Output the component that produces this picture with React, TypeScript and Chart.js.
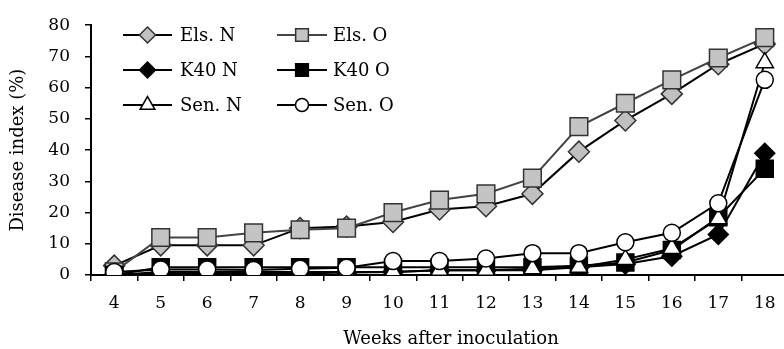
import React, { useEffect, useRef } from 'react';
import { Chart, registerables } from 'chart.js';

Chart.register(...registerables);

const weeks = ['4', '5', '6', '7', '8', '9', '10', '11', '12', '13', '14', '15', '16', '17', '18'];
const elsN = [3, 9.5, 9.5, 9.5, 15, 15.5, 17, 21, 22, 26, 39.5, 49.5, 58, 67.5, 74];
const elsO = [1, 12, 12, 13.5, 14.5, 15, 20, 24, 26, 31, 47.5, 55, 62.5, 69.5, 76];
const k40N = [0, 0.5, 0.5, 0.5, 0.5, 0.8, 1, 1.5, 1.5, 1.5, 2.5, 3.5, 6, 13, 39];
const k40O = [0, 2.5, 2.5, 2.5, 2.5, 2.5, 2.5, 2.5, 2.5, 2.5, 3, 4, 8, 18.5, 34];
const senN = [0, 1, 1, 1, 1, 1, 1, 1.5, 1.5, 2, 2.5, 5, 8.5, 18, 68];
const senO = [1, 1.8, 1.8, 1.6, 2, 2.3, 4.5, 4.5, 5.3, 7, 7, 10.5, 13.5, 23, 62.5];
const yTicks = [0, 10, 20, 30, 40, 50, 60, 70, 80];

const FONT = '"DejaVu Serif", serif';

type Series = {
  label: string;
  data: number[];
  line: string;
  style: string;
  r: number;
  lr: number;
  fill: string;
  stroke: string;
  order: number;
};

const series: Series[] = [
  { label: 'Els. N', data: elsN, line: '#000', style: 'rectRot', r: 10.5, lr: 8, fill: '#c0c0c0', stroke: '#333', order: 5 },
  { label: 'Els. O', data: elsO, line: '#444', style: 'rect', r: 12.5, lr: 9, fill: '#c4c4c4', stroke: '#333', order: 4 },
  { label: 'K40 N', data: k40N, line: '#000', style: 'rectRot', r: 10, lr: 8, fill: '#000', stroke: '#000', order: 3 },
  { label: 'K40 O', data: k40O, line: '#000', style: 'rect', r: 12, lr: 9, fill: '#000', stroke: '#000', order: 2 },
  { label: 'Sen. N', data: senN, line: '#000', style: 'triangle', r: 10, lr: 8.5, fill: '#fff', stroke: '#000', order: 1 },
  { label: 'Sen. O', data: senO, line: '#000', style: 'circle', r: 8.5, lr: 6.5, fill: '#fff', stroke: '#000', order: 0 },
];

function drawMarker(ctx: CanvasRenderingContext2D, style: string, x: number, y: number, r: number) {
  ctx.beginPath();
  if (style === 'circle') {
    ctx.arc(x, y, r, 0, Math.PI * 2);
  } else if (style === 'rect') {
    const s = r * Math.SQRT1_2;
    ctx.rect(x - s, y - s, 2 * s, 2 * s);
  } else if (style === 'rectRot') {
    ctx.moveTo(x, y - r);
    ctx.lineTo(x + r, y);
    ctx.lineTo(x, y + r);
    ctx.lineTo(x - r, y);
  } else if (style === 'triangle') {
    const a = (2 * Math.PI) / 3;
    ctx.moveTo(x, y - r);
    ctx.lineTo(x + Math.sin(a) * r, y - Math.cos(a) * r);
    ctx.lineTo(x + Math.sin(2 * a) * r, y - Math.cos(2 * a) * r);
  }
  ctx.closePath();
  ctx.fill();
  ctx.stroke();
}

const legendPlugin = {
  id: 'customLegend',
  afterDraw(chart: any) {
    const ctx: CanvasRenderingContext2D = chart.ctx;
    ctx.save();
    const cols = [
      { x1: 123, x2: 172, tx: 180 },
      { x1: 277, x2: 327, tx: 333 },
    ];
    const rows = [35, 70, 105];
    series.forEach((s, i) => {
      const c = cols[i % 2];
      const y = rows[Math.floor(i / 2)];
      ctx.strokeStyle = s.line;
      ctx.lineWidth = 2;
      ctx.beginPath();
      ctx.moveTo(c.x1, y);
      ctx.lineTo(c.x2, y);
      ctx.stroke();
      ctx.fillStyle = s.fill;
      ctx.strokeStyle = s.stroke;
      ctx.lineWidth = 1.5;
      drawMarker(ctx, s.style, (c.x1 + c.x2) / 2, y, s.lr);
      ctx.fillStyle = '#000';
      ctx.font = '18px ' + FONT;
      ctx.textAlign = 'left';
      ctx.textBaseline = 'middle';
      ctx.fillText(s.label, c.tx, y + 1);
    });
    // x axis title
    ctx.font = '18px ' + FONT;
    ctx.textAlign = 'center';
    ctx.textBaseline = 'middle';
    ctx.fillStyle = '#000';
    ctx.fillText('Weeks after inoculation', 451, 339);
    ctx.restore();
  },
};

export default function App() {
  const ref = useRef<HTMLCanvasElement | null>(null);

  useEffect(() => {
    if (!ref.current) return;
    const chart = new Chart(ref.current, {
      type: 'line',
      data: {
        labels: weeks,
        datasets: series.map((s) => ({
          label: s.label,
          data: s.data,
          borderColor: s.line,
          borderWidth: 2,
          pointStyle: s.style as any,
          pointRadius: s.r,
          pointHoverRadius: s.r,
          pointBackgroundColor: s.fill,
          pointBorderColor: s.stroke,
          pointBorderWidth: 1.5,
          tension: 0,
          fill: false,
          order: s.order,
        })),
      },
      options: {
        responsive: false,
        animation: false,
        devicePixelRatio: 1,
        layout: { padding: { top: 22, right: 0, bottom: 0, left: 0 } },
        plugins: {
          legend: { display: false },
          tooltip: { enabled: false },
        },
        scales: {
          x: {
            type: 'category',
            offset: true,
            grid: {
              display: true,
              offset: true,
              drawOnChartArea: false,
              drawTicks: true,
              tickLength: 6,
              color: '#000',
              lineWidth: 1.5,
            },
            border: { display: true, color: '#000', width: 2 },
            ticks: {
              color: '#000',
              font: { family: FONT, size: 17 },
              padding: 12,
              maxRotation: 0,
              autoSkip: false,
            },
            title: { display: false },
            afterFit: (scale: any) => {
              scale.height = 74;
              scale.paddingLeft = 0;
              scale.paddingRight = 0;
            },
          },
          y: {
            min: 0,
            max: 80,
            afterBuildTicks: (scale: any) => {
              scale.ticks = yTicks.map((v) => ({ value: v }));
            },
            grid: {
              display: true,
              drawOnChartArea: false,
              drawTicks: true,
              tickLength: 6,
              color: '#000',
              lineWidth: 1.5,
            },
            border: { display: true, color: '#000', width: 2 },
            ticks: {
              color: '#000',
              font: { family: FONT, size: 17 },
              padding: 15,
            },
            title: {
              display: true,
              text: 'Disease index (%)',
              color: '#000',
              font: { family: FONT, size: 18 },
              padding: { top: 8, bottom: 0 },
            },
            afterFit: (scale: any) => {
              scale.width = 91;
            },
          },
        },
      },
      plugins: [legendPlugin],
    });
    return () => chart.destroy();
  }, []);

  return (
    <div
      style={{
        position: 'fixed',
        left: 0,
        top: 0,
        width: 784,
        height: 349,
        overflow: 'hidden',
        background: '#fff',
      }}
    >
      <canvas ref={ref} width={802} height={349} style={{ width: 802, height: 349, display: 'block' }} />
    </div>
  );
}
